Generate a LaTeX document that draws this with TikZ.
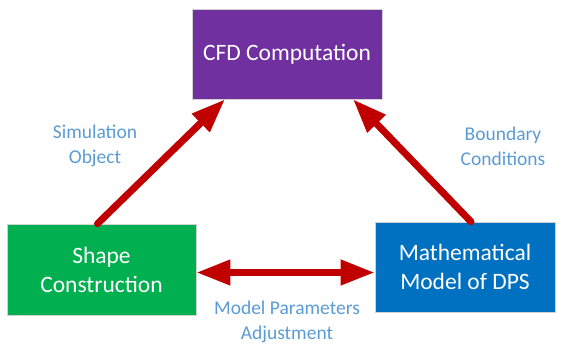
\documentclass[tikz,border=0pt]{standalone}
\usepackage{fontspec}
\setmainfont{Carlito}
\usetikzlibrary{positioning, arrows.meta, calc}
\definecolor{cfdpurple}{HTML}{7030A0}
\definecolor{shapegreen}{HTML}{00B050}
\definecolor{modelblue}{HTML}{0070C0}
\definecolor{linkred}{HTML}{C00000}
\definecolor{labelblue}{HTML}{5B9BD5}

\begin{document}
\begin{tikzpicture}[
        x=1pt, y=-1pt,
        block/.style={rectangle, draw=gray!35, line width=0.6pt, text=white, align=center, font=\fontsize{23.5}{29}\selectfont},
        link/.style={draw=linkred, line width=7pt, -{Triangle[length=34pt, width=24pt]}},
        linkboth/.style={draw=linkred, line width=7pt, {Triangle[length=34pt, width=24pt]}-{Triangle[length=34pt, width=24pt]}},
        note/.style={text=labelblue, align=center, font=\fontsize{19.5}{25}\selectfont}
    ]
    \useasboundingbox (0,0) rectangle (561,351);

    \node[block, fill=cfdpurple, minimum width=190pt, minimum height=90pt] (cfd) at (287,54) {CFD Computation};
    \node[block, fill=shapegreen, minimum width=189pt, minimum height=91pt] (shape) at (101.5,269.5) {Shape\\Construction};
    \node[block, fill=modelblue, minimum width=180pt, minimum height=90pt] (model) at (465,267) {Mathematical\\Model of DPS};

    % connectors between the three blocks
    \draw[link, line cap=round] ([xshift=-4pt]shape.north) -- ([xshift=-62pt]cfd.south);
    \draw[link, line cap=round] ([xshift=6pt]model.north) -- ([xshift=66pt]cfd.south);
    \draw[linkboth] ([yshift=-3pt]shape.east) -- ([yshift=-3pt]shape.east -| model.west);

    \node[note] (simlabel) at (95,146) {Simulation\\Object};
    \node[note] (bclabel) at (503,146) {Boundary\\Conditions};
    \node[note] (adjlabel) at (287,322) {Model Parameters\\Adjustment};
\end{tikzpicture}
\end{document}
